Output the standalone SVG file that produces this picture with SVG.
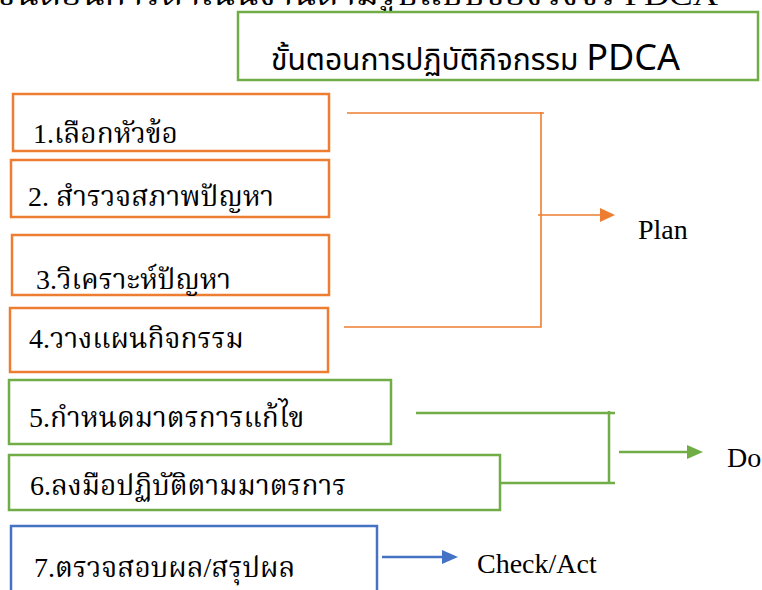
<svg xmlns="http://www.w3.org/2000/svg" width="762" height="590" viewBox="0 0 762 590">
<defs>
<style>
.o{fill:#fff;stroke:#ED7D31;stroke-width:2.5}
.g{fill:#fff;stroke:#70AD47;stroke-width:2.5}
.b{fill:#fff;stroke:#4472C4;stroke-width:2.5}
.t{font-family:"Liberation Serif","Noto Serif Thai","Noto Sans Thai",serif;font-size:28px;fill:#000}
.lbl{font-family:"Liberation Serif",serif;font-size:28px;fill:#000}
.lo{stroke:#ED7D31;stroke-width:1.6;fill:none}
.lg{stroke:#70AD47;stroke-width:2.5;fill:none}
.lb{stroke:#4472C4;stroke-width:2.5;fill:none}
</style>
</defs>
<text class="t" x="-4" y="5" textLength="722" lengthAdjust="spacingAndGlyphs">ขั้นตอนการดำเนินงานตามรูปแบบของวงจร PDCA</text>
<g id="title">
<rect x="238" y="12" width="520" height="68" fill="#fff" stroke="#70AD47" stroke-width="2.5"/>
<text x="271" y="70" font-family="'Noto Sans','Noto Sans Thai',sans-serif" font-size="30" fill="#000">ขั้นตอนการปฏิบัติกิจกรรม <tspan font-size="36">PDCA</tspan></text>
</g>
<g id="n1"><rect class="o" x="13" y="94" width="316" height="57"/><text class="t" x="33" y="143">1.เลือกหัวข้อ</text></g>
<g id="n2"><rect class="o" x="11" y="160" width="318" height="57"/><text class="t" x="28" y="206">2. สำรวจสภาพปัญหา</text></g>
<g id="n3"><rect class="o" x="12" y="235" width="317" height="60"/><text class="t" x="36" y="289">3.วิเคราะห์ปัญหา</text></g>
<g id="n4"><rect class="o" x="10" y="308" width="318" height="64"/><text class="t" x="29" y="348">4.วางแผนกิจกรรม</text></g>
<g id="n5"><rect class="g" x="9" y="380" width="382" height="64"/><text class="t" x="29" y="427">5.กำหนดมาตรการแก้ไข</text></g>
<g id="n6"><rect class="g" x="9" y="455" width="491" height="55"/><text class="t" x="30" y="495">6.ลงมือปฏิบัติตามมาตรการ</text></g>
<g id="n7"><rect class="b" x="11" y="526" width="366" height="70"/><text class="t" x="34" y="577">7.ตรวจสอบผล/สรุปผล</text></g>
<g id="connectors">
<path class="lo" d="M347,113 H544 M541,112 V327 H344"/>
<path class="lo" d="M538,215 H600"/>
<path d="M600,208 L615,215 L600,222 z" fill="#ED7D31"/>
<path class="lg" d="M416,413 H615 M609,411 V484 M500,483 H615"/>
<path class="lg" d="M619,452 H688"/>
<path d="M687,445 L703,452 L687,459 z" fill="#70AD47"/>
<path class="lb" d="M382,557 H443"/>
<path d="M442,550 L458,557 L442,564 z" fill="#4472C4"/>
</g>
<text class="lbl" x="638" y="239">Plan</text>
<text class="lbl" x="727" y="467">Do</text>
<text class="lbl" x="477" y="573">Check/Act</text>
</svg>
